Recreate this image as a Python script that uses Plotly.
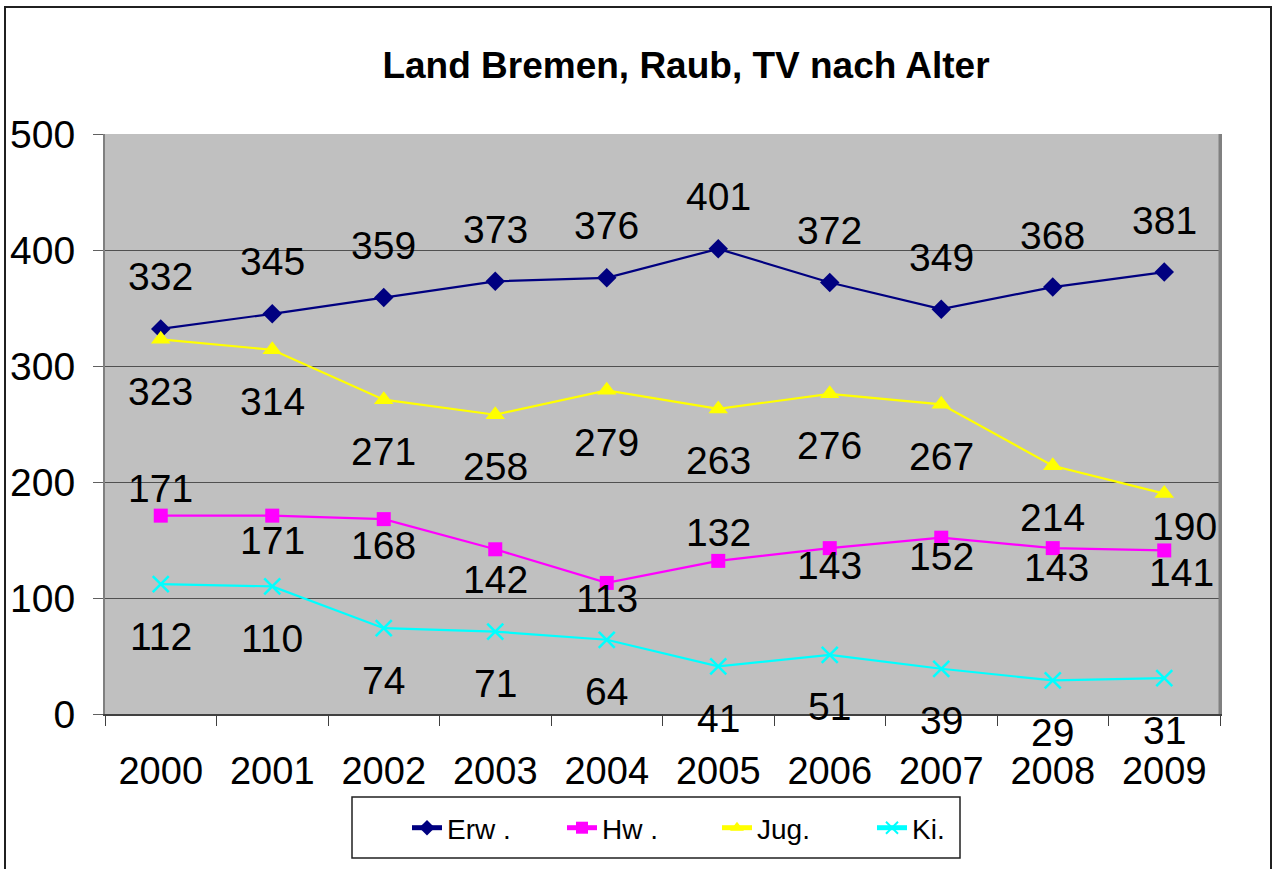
import plotly.graph_objects as go

years = ["2000", "2001", "2002", "2003", "2004", "2005", "2006", "2007", "2008", "2009"]
erw = [332, 345, 359, 373, 376, 401, 372, 349, 368, 381]
hw = [171, 171, 168, 142, 113, 132, 143, 152, 143, 141]
jug = [323, 314, 271, 258, 279, 263, 276, 267, 214, 190]
ki = [112, 110, 74, 71, 64, 41, 51, 39, 29, 31]

names = ["Erw .", "Hw .", "Jug.", "Ki."]
colors = ["#000080", "#FF00FF", "#FFFF00", "#00FFFF"]
symbols = ["diamond", "square", "triangle-up", "x-thin"]
msizes = [15, 14, 17, 16]

# label placement (pixel offsets of the value labels)
label_dy = {
    "Erw .": [52] * 10,
    "Hw .": [27, -25, -26, -30, -16, 28, -17, -19, -19, -22],
    "Jug.": [-52] * 9 + [-33],
    "Ki.": [-52] * 10,
}
label_dx = {
    "Erw .": [0] * 10,
    "Hw .": [0, 0, 0, 0, 0, 0, 0, 0, 4, 17],
    "Jug.": [0] * 9 + [20],
    "Ki.": [0] * 10,
}

# layout geometry (figure pixels)
W, H = 1274, 869
L, R, T, B = 105, 1274 - 1220, 134, 869 - 714
PW, PH = W - L - R, H - T - B


def px(xp):
    return (xp - L) / PW


def py(yp):
    return 1 - (yp - T) / PH


FONT = "Liberation Sans, Arial"

series = [erw, hw, jug, ki]
fig = go.Figure()
for name, vals, col, sym, ms in zip(names, series, colors, symbols, msizes):
    marker = dict(symbol=sym, size=ms, color=col)
    if sym == "x-thin":
        marker["line"] = dict(color=col, width=2.5)
    fig.add_trace(go.Scatter(
        x=years, y=vals, name=name, mode="lines+markers",
        line=dict(color=col, width=2.2), marker=marker,
    ))

annotations = []
for name, vals in zip(names, series):
    for i, v in enumerate(vals):
        annotations.append(dict(
            x=i, y=v, xref="x", yref="y", text=str(v), showarrow=False,
            xshift=label_dx[name][i], yshift=label_dy[name][i],
            font=dict(family=FONT, size=39, color="black"),
        ))

fig.update_layout(
    width=W, height=H,
    margin=dict(l=L, r=R, t=T, b=B),
    paper_bgcolor="white", plot_bgcolor="#C0C0C0",
    title=dict(text="<b>Land Bremen, Raub, TV nach Alter</b>", xref="container",
               x=686 / W, xanchor="center",
               y=1 - 65 / H, yanchor="middle",
               font=dict(family=FONT, size=37, color="black")),
    font=dict(family=FONT, color="black"),
    showlegend=True,
    legend=dict(orientation="h", x=px(407), xanchor="left", y=py(828), yanchor="middle",
                borderwidth=0, bgcolor="rgba(0,0,0,0)",
                font=dict(size=28, family=FONT),
                entrywidth=110, itemsizing="constant"),
    annotations=annotations,
    shapes=[
        dict(type="rect", xref="paper", yref="paper",
             x0=px(5), x1=px(1271), y0=py(890), y1=py(7),
             line=dict(color="#202020", width=2), fillcolor="rgba(0,0,0,0)"),
        dict(type="rect", xref="paper", yref="paper",
             x0=px(352), x1=px(960), y0=py(858), y1=py(797),
             line=dict(color="#202020", width=1.5), fillcolor="rgba(0,0,0,0)"),
    ],
)
fig.update_xaxes(type="category", autotypenumbers="strict", range=[-0.5, 9.5],
                 categoryorder="array", categoryarray=years, tickangle=0,
                 showline=True, linecolor="#404040", linewidth=2, automargin=False,
                 mirror=False, ticks="outside", tickson="boundaries", ticklen=10,
                 tickcolor="#404040", showgrid=False,
                 tickfont=dict(size=38, family=FONT), ticklabelstandoff=22)
fig.update_yaxes(range=[0, 500], dtick=100, showline=True, linecolor="#808080", linewidth=2,
                 mirror=True, ticks="outside", ticklen=10, tickcolor="#606060", automargin=False,
                 showgrid=True, gridcolor="#505050", gridwidth=1, zeroline=False,
                 tickfont=dict(size=39, family=FONT), ticklabelstandoff=10)
fig.add_shape(type="line", xref="paper", yref="paper", x0=1, x1=1, y0=0, y1=1,
              line=dict(color="#808080", width=3))

fig.write_html("out.html", config={"displayModeBar": False},
               post_script="document.body.style.margin='0';")
